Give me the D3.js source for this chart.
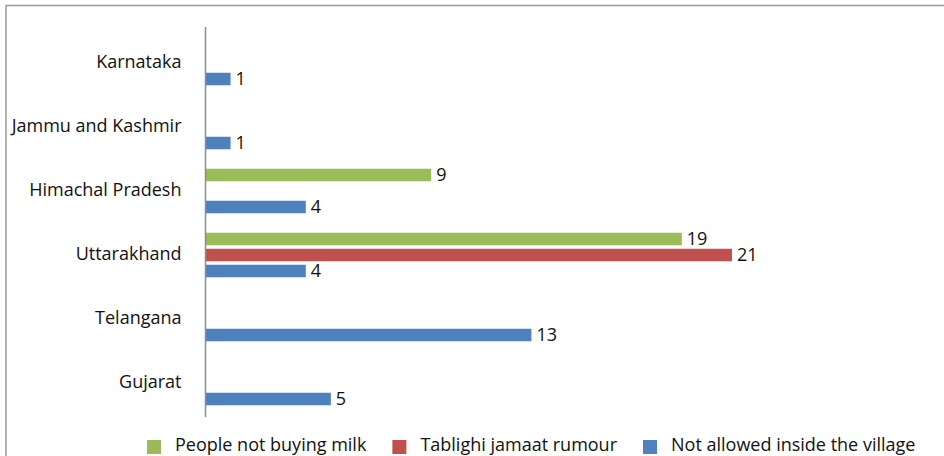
<!DOCTYPE html>
<html>
<head>
<meta charset="utf-8">
<script src="https://cdn.jsdelivr.net/npm/d3@7"></script>
<style>
    html, body { margin: 0; padding: 0; background: #fff; overflow: hidden; }
    svg { display: block; font-family: "Open Sans", Lato, sans-serif; }
</style>
</head>
<body>
<svg id="chart" width="944" height="456"></svg>
<script>
// states, top to bottom as in the picture
const states = ['Karnataka', 'Jammu and Kashmir', 'Himachal Pradesh', 'Uttarakhand', 'Telangana', 'Gujarat'];

const seriesNames = ['People not buying milk', 'Tablighi jamaat rumour', 'Not allowed inside the village'];
const seriesColors = ['#9bbb59', '#c0504d', '#4f81bd'];

// null = no bar for that state
const notBuyingMilk = [null, null, 9, 19, null, null];
const tablighiRumour = [null, null, null, 21, null, null];
const notAllowed = [1, 1, 4, 4, 13, 5];

const seriesValues = [notBuyingMilk, tablighiRumour, notAllowed];

const FONT = '"Open Sans", Lato, sans-serif';
const FONT_SIZE = 18;

class IncidentChart {
    constructor() {
        this.svg = d3.select('#chart');
        this.width = 944;
        this.height = 456;

        this.x = d3.scaleLinear()
            .domain([0, 29])
            .range([205.5, 205.5 + 29 * 25.07]);

        this.y = d3.scaleBand()
            .domain(states)
            .range([31, 415]);

        this.inner = d3.scaleBand()
            .domain(seriesNames)
            .range([8, 56]);

        this.barHeight = 12.5;
        this.draw();
    }

    draw() {
        // frame of the original chart, cut off at right and bottom
        this.svg.append('rect')
            .attr('x', 6)
            .attr('y', 5.5)
            .attr('width', this.width + 20)
            .attr('height', this.height + 20)
            .attr('fill', 'none')
            .attr('stroke', '#a0a0a0')
            .attr('stroke-width', 1.6);

        const bars = [];
        seriesNames.forEach((name, si) => {
            states.forEach((state, ci) => {
                const v = seriesValues[si][ci];
                if (v !== null) bars.push({ state, name, value: v, color: seriesColors[si] });
            });
        });

        const barY = d => this.y(d.state) + this.inner(d.name) + (this.inner.bandwidth() - this.barHeight) / 2;

        this.svg.append('g')
            .selectAll('rect')
            .data(bars)
            .enter()
            .append('rect')
            .attr('x', this.x(0))
            .attr('y', barY)
            .attr('width', d => this.x(d.value) - this.x(0))
            .attr('height', this.barHeight)
            .attr('fill', d => d.color);

        this.svg.append('g')
            .selectAll('text')
            .data(bars)
            .enter()
            .append('text')
            .attr('x', d => this.x(d.value) + 5)
            .attr('y', d => barY(d) + this.barHeight / 2)
            .attr('dy', '0.36em')
            .attr('font-size', FONT_SIZE)
            .attr('fill', '#111')
            .text(d => d.value);

        // category axis: just the line and the labels
        const axis = this.svg.append('g')
            .attr('transform', `translate(${this.x(0)},0)`)
            .call(d3.axisLeft(this.y).tickSize(0).tickPadding(24));

        axis.select('.domain')
            .attr('d', 'M0,27V417')
            .attr('stroke', '#8c8c8c')
            .attr('stroke-width', 1.5);

        axis.selectAll('.tick text')
            .attr('font-family', FONT)
            .attr('font-size', FONT_SIZE)
            .attr('fill', '#111')
            .attr('dy', '0.3em');

        this.drawLegend();
    }

    drawLegend() {
        const legend = this.svg.append('g').attr('transform', 'translate(0,446)');
        let xPos = 147;
        seriesNames.forEach((name, i) => {
            legend.append('rect')
                .attr('x', xPos)
                .attr('y', -6)
                .attr('width', 14)
                .attr('height', 14)
                .attr('fill', seriesColors[i]);
            const t = legend.append('text')
                .attr('x', xPos + 28)
                .attr('y', 5)
                .attr('font-size', FONT_SIZE)
                .attr('fill', '#111')
                .text(name);
            xPos += 28 + t.node().getComputedTextLength() + 26;
        });
    }
}

new IncidentChart();
</script>
</body>
</html>
